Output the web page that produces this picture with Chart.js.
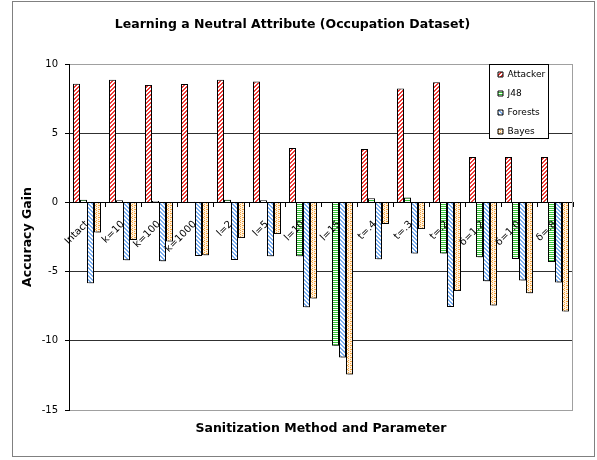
<!DOCTYPE html>
<html>
<head>
<meta charset="utf-8">
<script src="https://cdn.jsdelivr.net/npm/chart.js@4/dist/chart.umd.min.js"></script>
<style>
  html, body { margin: 0; padding: 0; background: #fff; }
  #wrap { position: relative; width: 597px; height: 460px; }
</style>
</head>
<body>
<div id="wrap"><canvas id="chart" width="597" height="460"></canvas></div>
<script>
// Data
const categories = ['Intact', 'k=10', 'k=100', 'k=1000', 'l=2', 'l=5', 'l=10', 'l=15',
                    't=.4', 't=.3', 't=.2', 'δ=1.2', 'δ=1.0', 'δ=.8'];
const attacker = [8.57, 8.86, 8.49, 8.55, 8.86, 8.73, 3.93, 0, 3.86, 8.23, 8.69, 3.28, 3.28, 3.28];
const j48 = [0.2, 0.15, 0.1, 0.04, 0.2, 0.15, -3.89, -10.36, 0.3, 0.35, -3.7, -3.96, -4.09, -4.31];
const forests = [-5.85, -4.18, -4.25, -3.87, -4.16, -3.89, -7.58, -11.21, -4.11, -3.7, -7.56, -5.69, -5.64, -5.78];
const bayes = [-2.17, -2.71, -2.83, -3.82, -2.58, -2.29, -6.95, -12.43, -1.56, -1.93, -6.41, -7.45, -6.56, -7.89];
const yTicks = [-15, -10, -5, 0, 5, 10];

const FONT = "'DejaVu Sans', Verdana, sans-serif";

// small tiled fills, like the Excel hatch patterns
function makePattern(size, bg, fg, test) {
    const c = document.createElement('canvas');
    c.width = size; c.height = size;
    const g = c.getContext('2d');
    g.fillStyle = bg;
    g.fillRect(0, 0, size, size);
    g.fillStyle = fg;
    for (let y = 0; y < size; y++) {
        for (let x = 0; x < size; x++) {
            if (test(x, y)) g.fillRect(x, y, 1, 1);
        }
    }
    return document.getElementById('chart').getContext('2d').createPattern(c, 'repeat');
}

const redHatch = makePattern(4, '#ffffff', '#ec3a36', (x, y) => (x + y) % 4 < 2);
const greenLines = makePattern(4, '#ffffff', '#36c636', (x, y) => y % 2 === 0);
const blueHatch = makePattern(4, '#ffffff', '#7aaef0', (x, y) => ((x - y) % 4 + 4) % 4 < 2);
const orangeDots = makePattern(4, '#fff2e0', '#f5a43c', (x, y) => (x + 2 * y) % 4 === 0 || (x === 3 && y === 1));

// frame, plot border, bar shadows and the framed legend
const decor = {
    id: 'decor',
    beforeDraw(chart) {
        const ctx = chart.ctx;
        ctx.save();
        ctx.fillStyle = '#fff';
        ctx.fillRect(0, 0, chart.width, chart.height);
        ctx.strokeStyle = '#808080';
        ctx.lineWidth = 1;
        ctx.strokeRect(12.5, 1.5, 582, 455);
        ctx.restore();
    },
    afterLayout(chart) {
        const lg = chart.legend;
        const a = chart.chartArea;
        lg.left = a.right - 85;
        lg.top = a.top - 4;
        lg.right = lg.left + 80;
        lg.bottom = lg.top + 120;
    },
    beforeDatasetsDraw(chart) {
        const a = chart.chartArea;
        const ctx = chart.ctx;
        ctx.save();
        ctx.strokeStyle = '#a0a0a0';
        ctx.lineWidth = 1;
        ctx.beginPath();
        ctx.moveTo(a.right - 0.5, a.top);
        ctx.lineTo(a.right - 0.5, a.bottom);
        ctx.stroke();
        ctx.restore();
        ctx.save();
        ctx.shadowColor = 'rgba(0,0,0,0.35)';
        ctx.shadowOffsetX = 2;
        ctx.shadowOffsetY = 2;
        ctx.shadowBlur = 0;
    },
    afterDatasetsDraw(chart) {
        const ctx = chart.ctx;
        ctx.restore();
        const a = chart.chartArea;
        ctx.save();
        ctx.fillStyle = '#fff';
        ctx.strokeStyle = '#000';
        ctx.lineWidth = 1;
        const bx = a.right - 83.5, by = a.top + 0.5;
        ctx.fillRect(bx, by, 59, 74);
        ctx.strokeRect(bx, by, 59, 74);
        ctx.restore();
        chart.legend.draw();
    }
};

new Chart(document.getElementById('chart'), {
    type: 'bar',
    data: {
        labels: categories,
        datasets: [
            { label: 'Attacker', data: attacker, backgroundColor: redHatch },
            { label: 'J48', data: j48, backgroundColor: greenLines },
            { label: 'Forests', data: forests, backgroundColor: blueHatch },
            { label: 'Bayes', data: bayes, backgroundColor: orangeDots }
        ]
    },
    options: {
        responsive: false,
        animation: false,
        devicePixelRatio: 1,
        datasets: {
            bar: {
                borderColor: '#000',
                borderWidth: 1,
                categoryPercentage: 28 / 36,
                barPercentage: 1.0
            }
        },
        layout: { padding: { left: 12, right: 24, top: 2, bottom: 4 } },
        plugins: {
            title: {
                display: true,
                text: 'Learning a Neutral Attribute (Occupation Dataset)',
                color: '#000',
                font: { family: FONT, size: 12.5, weight: 'bold' },
                padding: { top: 15, bottom: 32 }
            },
            legend: {
                position: 'chartArea',
                align: 'start',
                labels: {
                    color: '#000',
                    font: { family: FONT, size: 9 },
                    boxWidth: 5,
                    boxHeight: 5,
                    padding: 10
                }
            },
            tooltip: { enabled: false }
        },
        scales: {
            x: {
                position: { y: 0 },
                ticks: {
                    color: '#000',
                    font: { family: FONT, size: 10 },
                    minRotation: 45,
                    maxRotation: 45,
                    padding: 12,
                    autoSkip: false,
                    z: 1
                },
                grid: { drawOnChartArea: false, tickLength: 4, tickColor: '#000' },
                border: { color: '#000', width: 1 }
            },
            xt: {
                type: 'category',
                labels: categories,
                position: 'bottom',
                ticks: { display: false },
                grid: { display: false },
                border: { display: false },
                title: {
                    display: true,
                    text: 'Sanitization Method and Parameter',
                    color: '#000',
                    font: { family: FONT, size: 12.5, weight: 'bold' },
                    padding: { top: 3, bottom: 20 }
                }
            },
            y: {
                min: -15,
                max: 10,
                afterBuildTicks(scale) {
                    scale.ticks = yTicks.map(v => ({ value: v }));
                },
                afterFit(scale) { scale.width = 57; },
                ticks: {
                    color: '#000',
                    font: { family: FONT, size: 10 },
                    padding: 7
                },
                grid: {
                    color: (c) => (c.tick && (c.tick.value === 10 || c.tick.value === -15)) ? '#a0a0a0' : '#303030',
                    tickLength: 4,
                    tickColor: '#000'
                },
                border: { color: '#000', width: 1 },
                title: {
                    display: true,
                    text: 'Accuracy Gain',
                    color: '#000',
                    font: { family: FONT, size: 12.5, weight: 'bold' },
                    padding: { top: 8.5, bottom: 4 }
                }
            }
        }
    },
    plugins: [decor]
});
</script>
</body>
</html>
